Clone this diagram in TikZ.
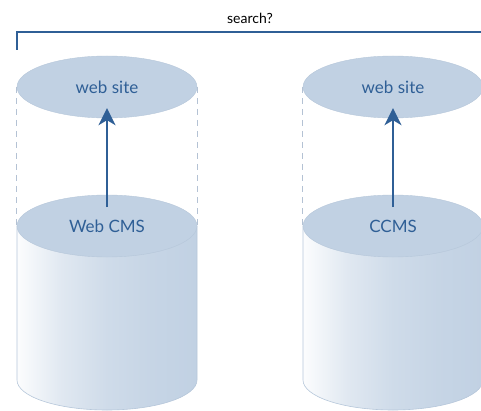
\documentclass[tikz,border=0pt]{standalone}
\usepackage{fontspec}
\setmainfont{Lato}
\usetikzlibrary{shapes.geometric,arrows.meta,calc}
\definecolor{cylfill}{HTML}{C1D1E3}
\definecolor{cyledge}{HTML}{B6C7DA}
\definecolor{textblue}{HTML}{2F5F96}
\definecolor{dashc}{HTML}{B4C2D4}
\pgfdeclarehorizontalshading{cylshade}{100bp}{color(0bp)=(white!95!cylfill); color(25bp)=(white!95!cylfill); color(37.5bp)=(cylfill!50!white); color(50bp)=(cylfill!78!white); color(62.5bp)=(cylfill!92!white); color(75bp)=(cylfill); color(100bp)=(cylfill)}
\tikzset{
  disc/.style={ellipse, fill=cylfill, draw=cyledge, line width=0.4pt, minimum width=180pt, minimum height=62pt, inner sep=0pt, text=textblue, font=\fontsize{17}{19}\selectfont},
  body/.style={shading=cylshade, draw=cyledge, line width=0.6pt},
  upflow/.style={draw=textblue, line width=2pt, -{Stealth[length=17pt,width=17pt,inset=5pt]}},
  guide/.style={draw=dashc, line width=1pt, dash pattern=on 6pt off 5pt},
  bracket/.style={draw=textblue, line width=1.5pt},
}
\begin{document}
\begin{tikzpicture}[x=1pt,y=1pt]
\useasboundingbox (0,0) rectangle (481,410);
\begin{scope}
\clip (0,0) rectangle (481,410);
% left cylinder
\path[body] (17,184) -- (17,30) arc[start angle=180,end angle=360,x radius=90pt,y radius=30pt] -- (197,184) -- cycle;
\node[disc] (cms) at (107,184) {Web CMS};
\node[disc] (site1) at (107,323) {web site};
\draw[guide] (site1.west) -- (cms.west);
\draw[guide] (site1.east) -- (cms.east);
% right cylinder
\path[body] (303,184) -- (303,30) arc[start angle=180,end angle=360,x radius=90pt,y radius=30pt] -- (483,184) -- cycle;
\node[disc] (ccms) at (393,184) {CCMS};
\node[disc] (site2) at (393,323) {web site};
\draw[guide] (site2.west) -- (ccms.west);
\end{scope}
\coordinate (a1) at ($(cms.center)+(0,19)$);
\coordinate (a2) at ($(ccms.center)+(0,19)$);
\draw[upflow, shorten >=-10pt] (a1) -- (site1.south);
\draw[upflow, shorten >=-10pt] (a2) -- (site2.south);
\coordinate (bstart) at (17,360);
\coordinate (bcorner) at (17,378);
\coordinate (bend) at (481,378);
\draw[bracket] (bstart) -- (bcorner) -- (bend);
\node[font=\fontsize{14}{16}\selectfont, text=black] (search) at (250,392) {search?};
\end{tikzpicture}
\end{document}
